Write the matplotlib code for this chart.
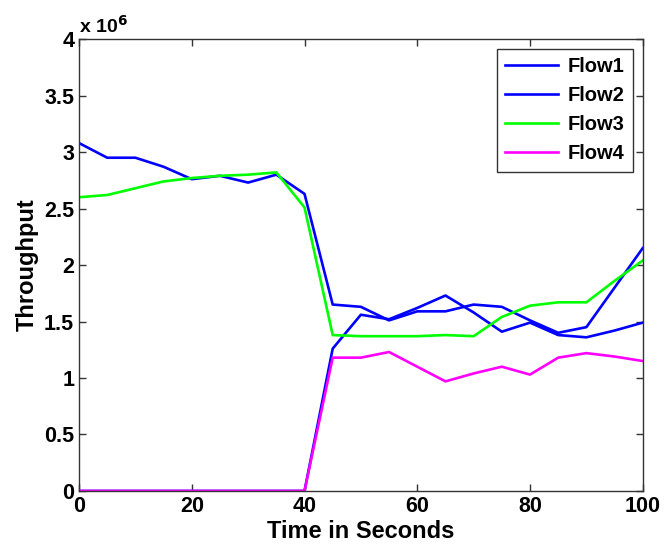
import matplotlib
matplotlib.use("Agg")
import matplotlib.pyplot as plt
from matplotlib.ticker import FuncFormatter

plt.rcParams['font.family'] = ['Liberation Sans', 'DejaVu Sans']
plt.rcParams['font.weight'] = 'bold'

# time axis and throughput (in units of 1e6)
time = [0, 5, 10, 15, 20, 25, 30, 35, 40, 45, 50,
        55, 60, 65, 70, 75, 80, 85, 90, 95, 100]
flow1 = [3.08, 2.95, 2.95, 2.87, 2.76, 2.79, 2.73, 2.80, 2.63, 1.65, 1.63,
         1.51, 1.59, 1.59, 1.65, 1.63, 1.51, 1.40, 1.45, 1.80, 2.15]
flow2 = [0, 0, 0, 0, 0, 0, 0, 0, 0, 1.26, 1.56,
         1.52, 1.62, 1.73, 1.58, 1.41, 1.49, 1.38, 1.36, 1.42, 1.49]
flow3 = [2.60, 2.62, 2.68, 2.74, 2.77, 2.79, 2.80, 2.82, 2.51, 1.38, 1.37,
         1.37, 1.37, 1.38, 1.37, 1.54, 1.64, 1.67, 1.67, 1.86, 2.04]
flow4 = [0, 0, 0, 0, 0, 0, 0, 0, 0, 1.18, 1.18,
         1.23, 1.10, 0.97, 1.04, 1.10, 1.03, 1.18, 1.22, 1.19, 1.15]
scale = 1e6

fig = plt.figure(figsize=(6.64, 5.51), dpi=100)
ax = fig.add_axes([0.119, 0.109, 0.849, 0.820])

lw = 1.9
ax.plot(time, [v * scale for v in flow1], color='#0000ff', lw=lw, label='Flow1')
ax.plot(time, [v * scale for v in flow2], color='#0000ff', lw=lw, label='Flow2')
ax.plot(time, [v * scale for v in flow3], color='#00ff00', lw=lw, label='Flow3')
ax.plot(time, [v * scale for v in flow4], color='#ff00ff', lw=lw, label='Flow4')

ax.set_xlim(0, 100)
ax.set_ylim(0, 4 * scale)
ax.set_xticks([0, 20, 40, 60, 80, 100])
ax.set_yticks([i * 0.5 * scale for i in range(9)])
ax.yaxis.set_major_formatter(FuncFormatter(lambda v, p: f"{v / scale:g}"))
ax.tick_params(direction='in', top=True, right=True, labelsize=15.5,
               length=5, width=1, colors='#333333', labelcolor='black')
for s in ax.spines.values():
    s.set_color('#333333')
    s.set_linewidth(1)

ax.text(0.0, 1.005, r'x 10$^{6}$', transform=ax.transAxes, fontsize=14,
        fontweight='bold', ha='left', va='bottom')

ax.set_xlabel('Time in Seconds', fontsize=17, fontweight='bold', labelpad=2)
ax.set_ylabel('Throughput', fontsize=17, fontweight='bold', labelpad=4)

leg = ax.legend(loc='upper right', fontsize=14.5, fancybox=False,
                edgecolor='#333333', framealpha=1, handlelength=2.6,
                borderaxespad=0.5, labelspacing=0.5, handletextpad=0.5,
                borderpad=0.4)
leg.get_frame().set_linewidth(1)

fig.savefig('out.png', dpi=100)
